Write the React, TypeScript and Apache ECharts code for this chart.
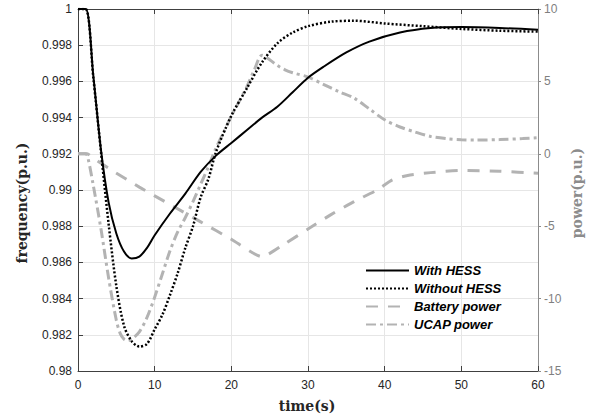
import React, { useEffect, useRef } from "react";
import * as echarts from "echarts";

const timeWith = [0, 1, 2, 3, 4, 5, 6, 7, 8, 9, 10, 12, 14, 16, 18, 20, 22, 24, 26, 28, 30, 32, 35, 38, 42, 46, 50, 55, 60];
const freqWith = [1, 1, 0.9963, 0.9922, 0.9893, 0.9876, 0.9866, 0.98622, 0.98632, 0.9868, 0.9875, 0.9887, 0.9898, 0.991, 0.9919, 0.9926, 0.9933, 0.994, 0.9946, 0.9954, 0.9962, 0.9968, 0.9976, 0.9982, 0.9987, 0.99895, 0.999, 0.99895, 0.99885];

const timeWithout = [0, 1, 2, 3, 4, 5, 6, 7, 8, 9, 10, 11, 12, 13, 14, 15, 16, 17, 18, 20, 22, 24, 26, 28, 30, 33, 36, 40, 45, 50, 55, 60];
const freqWithout = [1, 1, 0.9962, 0.9921, 0.9881, 0.9847, 0.9825, 0.98165, 0.98135, 0.9815, 0.9823, 0.9831, 0.9842, 0.9854, 0.9868, 0.988, 0.9896, 0.9906, 0.9921, 0.9941, 0.9956, 0.99705, 0.9981, 0.9987, 0.99905, 0.9993, 0.99935, 0.9992, 0.99905, 0.9989, 0.9988, 0.99875];

const timeBattery = [0, 1.2, 2, 4, 8, 12, 16, 20, 24, 27, 30, 33, 36, 39, 41, 43, 46, 50, 55, 60];
const powerBattery = [0, 0, -0.3, -1.0, -2.3, -3.5, -4.7, -5.9, -7.1, -6.2, -5.2, -4.2, -3.3, -2.5, -1.8, -1.5, -1.3, -1.15, -1.2, -1.35];

const timeUcap = [0, 1, 1.3, 2, 3, 4, 5, 5.5, 6, 6.5, 7, 8, 9, 10, 11, 12, 13, 14, 15, 16, 17, 18, 19, 20, 21, 22, 23, 24, 25, 26, 27, 28, 30, 32, 34, 36, 38, 40, 42, 44, 46, 48, 50, 52, 55, 58, 60];
const powerUcap = [0, 0, -0.3, -2.2, -5.2, -8.6, -11.5, -12.4, -12.8, -12.9, -12.8, -12.3, -11.3, -9.9, -8.3, -6.7, -5.4, -4.4, -3.3, -2.1, -0.9, 0.4, 1.5, 2.6, 3.6, 4.6, 5.8, 6.8, 6.5, 6.1, 5.8, 5.6, 5.3, 4.8, 4.3, 3.85, 3.1, 2.35, 1.85, 1.5, 1.2, 1.05, 0.97, 0.95, 0.98, 1.05, 1.12];

const seriesNames = ["With HESS", "Without HESS", "Battery power", "UCAP power"];
const axisNames = { x: "time(s)", left: "frequency(p.u.)", right: "power(p.u.)" };

const pairs = (xs: number[], ys: number[]) => xs.map((x, i) => [x, ys[i]]);

export default function App() {
  const ref = useRef<HTMLDivElement>(null);
  useEffect(() => {
    if (!ref.current) return;
    const chart = echarts.init(ref.current, null, { renderer: "svg" });
    const tickFont = { fontFamily: "Liberation Sans", fontSize: 12 };
    const nameFont = "bold 14px 'DejaVu Serif'";
    chart.setOption({
      animation: false,
      backgroundColor: "#ffffff",
      grid: { left: 78, right: 54, top: 9, bottom: 47, show: false },
      legend: {
        orient: "vertical",
        left: 360,
        top: 259,
        itemWidth: 43,
        itemHeight: 14,
        itemGap: 5,
        data: seriesNames,
        itemStyle: { opacity: 0 },
        textStyle: { fontFamily: "Liberation Sans", fontSize: 13, fontWeight: "bold", fontStyle: "italic", color: "#000" },
      },
      graphic: [
        {
          type: "text",
          x: 307,
          y: 406,
          style: { text: axisNames.x, font: nameFont, fill: "#262626", align: "center", verticalAlign: "middle" },
        },
        {
          type: "text",
          x: 22,
          y: 203,
          rotation: Math.PI / 2,
          style: { text: axisNames.left, font: nameFont, fill: "#262626", align: "center", verticalAlign: "middle" },
        },
        {
          type: "text",
          x: 577,
          y: 193,
          rotation: Math.PI / 2,
          style: { text: axisNames.right, font: nameFont, fill: "#8c8c8c", align: "center", verticalAlign: "middle" },
        },
      ],
      xAxis: [
        {
          type: "value",
          min: 0,
          max: 60,
          interval: 10,
          axisLine: { show: true, onZero: false, lineStyle: { color: "#404040", width: 1 } },
          axisTick: { show: true, inside: true, length: 5, lineStyle: { color: "#404040" } },
          axisLabel: { ...tickFont, color: "#262626", margin: 8 },
          splitLine: { show: true, lineStyle: { color: "#e6e6e6", width: 1 } },
        },
        {
          type: "value",
          position: "top",
          min: 0,
          max: 60,
          interval: 10,
          axisLine: { show: true, onZero: false, lineStyle: { color: "#404040", width: 1 } },
          axisTick: { show: true, inside: true, length: 5, lineStyle: { color: "#404040" } },
          axisLabel: { show: false },
          splitLine: { show: false },
        },
      ],
      yAxis: [
        {
          type: "value",
          min: 0.98,
          max: 1,
          interval: 0.002,
          axisLine: { show: true, onZero: false, lineStyle: { color: "#404040", width: 1 } },
          axisTick: { show: true, inside: true, length: 5, lineStyle: { color: "#404040" } },
          axisLabel: {
            ...tickFont,
            color: "#262626",
            margin: 6,
            formatter: (v: number) => String(parseFloat(v.toFixed(3))),
          },
          splitLine: { show: true, lineStyle: { color: "#e6e6e6", width: 1 } },
        },
        {
          type: "value",
          position: "right",
          min: -15,
          max: 10,
          interval: 5,
          axisLine: { show: true, onZero: false, lineStyle: { color: "#8c8c8c", width: 1 } },
          axisTick: { show: true, inside: false, length: 3, lineStyle: { color: "#8c8c8c" } },
          axisLabel: { ...tickFont, color: "#7f7f7f", margin: 6 },
          splitLine: { show: false },
        },
      ],
      series: [
        {
          name: seriesNames[0],
          type: "line",
          smooth: 0.3,
          symbol: "none",
          xAxisIndex: 0,
          yAxisIndex: 0,
          data: pairs(timeWith, freqWith),
          lineStyle: { color: "#000000", width: 2, type: "solid" },
          itemStyle: { color: "#000000" },
          z: 5,
        },
        {
          name: seriesNames[1],
          type: "line",
          smooth: 0.3,
          symbol: "none",
          xAxisIndex: 0,
          yAxisIndex: 0,
          data: pairs(timeWithout, freqWithout),
          lineStyle: { color: "#000000", width: 2.5, type: [2, 2] },
          itemStyle: { color: "#000000" },
          z: 4,
        },
        {
          name: seriesNames[2],
          type: "line",
          smooth: 0.2,
          symbol: "none",
          xAxisIndex: 0,
          yAxisIndex: 1,
          data: pairs(timeBattery, powerBattery),
          lineStyle: { color: "#b3b3b3", width: 3, type: [12, 10] },
          itemStyle: { color: "#b3b3b3" },
          z: 3,
        },
        {
          name: seriesNames[3],
          type: "line",
          smooth: 0.3,
          symbol: "none",
          xAxisIndex: 0,
          yAxisIndex: 1,
          data: pairs(timeUcap, powerUcap),
          lineStyle: { color: "#b3b3b3", width: 3, type: [10, 4, 3, 4] },
          itemStyle: { color: "#b3b3b3" },
          z: 3,
        },
      ],
    });
    return () => chart.dispose();
  }, []);
  return <div ref={ref} style={{ width: 592, height: 418, position: "fixed", left: 0, top: 0 }} />;
}
